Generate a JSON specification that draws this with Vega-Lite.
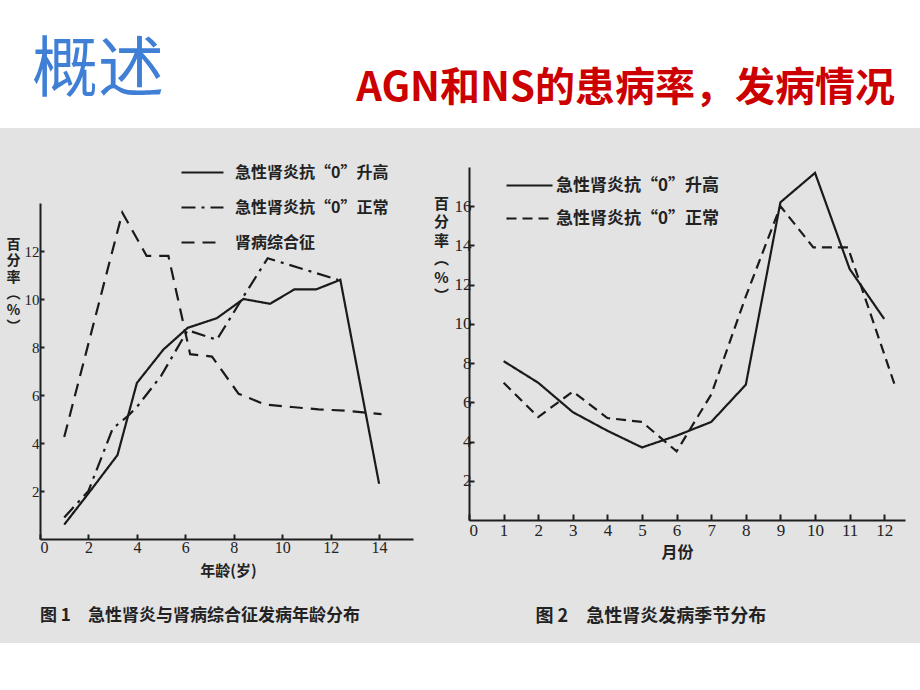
{
  "$schema": "https://vega.github.io/schema/vega-lite/v6.json",
  "background": "white",
  "padding": {"left": 0, "top": 38, "right": 0, "bottom": 47},
  "config": {
    "view": {"fill": "#e3e3e3", "stroke": null},
    "font": "Noto Sans CJK SC",
    "axis": {
      "domainColor": "#1e1e1e", "domainWidth": 2, "tickColor": "#1e1e1e", "tickWidth": 2,
      "grid": false, "labelColor": "#222222", "titleColor": "#222222",
      "labelFont": "Liberation Serif", "titleFont": "Noto Sans CJK SC", "titleFontWeight": "bold"
    },
    "legend": {
      "symbolType": "stroke", "symbolStrokeColor": "#1a1a1a", "symbolStrokeWidth": 2.2,
      "labelFont": "Noto Sans CJK SC", "labelFontWeight": "bold", "labelColor": "#222222",
      "padding": 0, "labelLimit": 400
    }
  },
  "datasets": {
    "d1": [
      {"x": 1.0, "y": 0.6, "s": "急性肾炎抗“0”升高"},
      {"x": 2.0, "y": 1.9, "s": "急性肾炎抗“0”升高"},
      {"x": 3.2, "y": 3.5, "s": "急性肾炎抗“0”升高"},
      {"x": 4.0, "y": 6.5, "s": "急性肾炎抗“0”升高"},
      {"x": 5.1, "y": 7.9, "s": "急性肾炎抗“0”升高"},
      {"x": 6.1, "y": 8.8, "s": "急性肾炎抗“0”升高"},
      {"x": 7.3, "y": 9.2, "s": "急性肾炎抗“0”升高"},
      {"x": 8.4, "y": 10.0, "s": "急性肾炎抗“0”升高"},
      {"x": 9.5, "y": 9.8, "s": "急性肾炎抗“0”升高"},
      {"x": 10.5, "y": 10.4, "s": "急性肾炎抗“0”升高"},
      {"x": 11.4, "y": 10.4, "s": "急性肾炎抗“0”升高"},
      {"x": 12.4, "y": 10.8, "s": "急性肾炎抗“0”升高"},
      {"x": 14.0, "y": 2.3, "s": "急性肾炎抗“0”升高"},
      {"x": 1.0, "y": 0.9, "s": "急性肾炎抗“0”正常"},
      {"x": 2.0, "y": 2.0, "s": "急性肾炎抗“0”正常"},
      {"x": 3.0, "y": 4.6, "s": "急性肾炎抗“0”正常"},
      {"x": 3.6, "y": 5.1, "s": "急性肾炎抗“0”正常"},
      {"x": 4.0, "y": 5.5, "s": "急性肾炎抗“0”正常"},
      {"x": 5.0, "y": 6.8, "s": "急性肾炎抗“0”正常"},
      {"x": 6.1, "y": 8.7, "s": "急性肾炎抗“0”正常"},
      {"x": 7.3, "y": 8.3, "s": "急性肾炎抗“0”正常"},
      {"x": 8.4, "y": 10.1, "s": "急性肾炎抗“0”正常"},
      {"x": 9.4, "y": 11.7, "s": "急性肾炎抗“0”正常"},
      {"x": 12.3, "y": 10.8, "s": "急性肾炎抗“0”正常"},
      {"x": 1.0, "y": 4.25, "s": "肾病综合征"},
      {"x": 3.4, "y": 13.6, "s": "肾病综合征"},
      {"x": 4.4, "y": 11.8, "s": "肾病综合征"},
      {"x": 5.3, "y": 11.8, "s": "肾病综合征"},
      {"x": 6.2, "y": 7.7, "s": "肾病综合征"},
      {"x": 7.1, "y": 7.6, "s": "肾病综合征"},
      {"x": 8.2, "y": 6.05, "s": "肾病综合征"},
      {"x": 9.3, "y": 5.6, "s": "肾病综合征"},
      {"x": 10.4, "y": 5.5, "s": "肾病综合征"},
      {"x": 11.5, "y": 5.4, "s": "肾病综合征"},
      {"x": 12.6, "y": 5.35, "s": "肾病综合征"},
      {"x": 14.1, "y": 5.2, "s": "肾病综合征"}
    ],
    "d2": [
      {"x": 1, "y": 8.1, "s": "急性肾炎抗“0”升高"},
      {"x": 2, "y": 7.0, "s": "急性肾炎抗“0”升高"},
      {"x": 3, "y": 5.5, "s": "急性肾炎抗“0”升高"},
      {"x": 4, "y": 4.55, "s": "急性肾炎抗“0”升高"},
      {"x": 5, "y": 3.7, "s": "急性肾炎抗“0”升高"},
      {"x": 6, "y": 4.3, "s": "急性肾炎抗“0”升高"},
      {"x": 7, "y": 5.0, "s": "急性肾炎抗“0”升高"},
      {"x": 8, "y": 6.9, "s": "急性肾炎抗“0”升高"},
      {"x": 9, "y": 16.2, "s": "急性肾炎抗“0”升高"},
      {"x": 10, "y": 17.7, "s": "急性肾炎抗“0”升高"},
      {"x": 11, "y": 12.8, "s": "急性肾炎抗“0”升高"},
      {"x": 12, "y": 10.25, "s": "急性肾炎抗“0”升高"},
      {"x": 1, "y": 7.0, "s": "急性肾炎抗“0”正常"},
      {"x": 2, "y": 5.25, "s": "急性肾炎抗“0”正常"},
      {"x": 3, "y": 6.55, "s": "急性肾炎抗“0”正常"},
      {"x": 4, "y": 5.2, "s": "急性肾炎抗“0”正常"},
      {"x": 5, "y": 5.0, "s": "急性肾炎抗“0”正常"},
      {"x": 6, "y": 3.5, "s": "急性肾炎抗“0”正常"},
      {"x": 7, "y": 6.4, "s": "急性肾炎抗“0”正常"},
      {"x": 8, "y": 11.4, "s": "急性肾炎抗“0”正常"},
      {"x": 9, "y": 16.0, "s": "急性肾炎抗“0”正常"},
      {"x": 9.95, "y": 13.9, "s": "急性肾炎抗“0”正常"},
      {"x": 10.95, "y": 13.9, "s": "急性肾炎抗“0”正常"},
      {"x": 12.3, "y": 6.9, "s": "急性肾炎抗“0”正常"}
    ]
  },
  "title": {
    "text": "概述", "anchor": "start", "dx": 32, "offset": -36,
    "fontSize": 66, "font": "Noto Sans CJK SC", "fontWeight": "normal", "color": "#3f7fd6"
  },
  "vconcat": [
    {
      "title": {
        "text": "AGN和NS的患病率，发病情况", "anchor": "end", "dx": -25, "offset": 19,
        "fontSize": 40, "font": "Noto Sans CJK SC", "fontWeight": "bold", "color": "#cc0000"
      },
      "spacing": 0,
      "bounds": "flush",
      "resolve": {
        "scale": {"strokeDash": "independent"},
        "legend": {"strokeDash": "independent"}
      },
      "hconcat": [
        {
          "width": 440, "height": 515,
          "data": {"name": "d1"},
          "title": {
            "text": "图 1　急性肾炎与肾病综合征发病年龄分布", "orient": "bottom", "anchor": "start",
            "dx": 40, "offset": -35, "fontSize": 17, "font": "Noto Sans CJK SC", "fontWeight": "bold", "color": "#222222"
          },
          "mark": {"type": "line", "color": "#1a1a1a", "strokeWidth": 2.2},
          "encoding": {
            "x": {
              "field": "x", "type": "quantitative",
              "scale": {"domain": [0, 15.4], "range": [40, 413], "nice": false, "zero": false},
              "axis": {
                "values": [0, 2, 4, 6, 8, 10, 12, 14], "offset": -104, "tickSize": -5, "labelPadding": 5,
                "labelFontSize": 16, "title": "年龄(岁)", "titleFontSize": 15, "titleX": 228, "titleY": 31,
                "titleBaseline": "middle", "titleAlign": "center"
              }
            },
            "y": {
              "field": "y", "type": "quantitative",
              "scale": {"domain": [0, 14], "range": [411, 75], "nice": false, "zero": false},
              "axis": {
                "values": [2, 4, 6, 8, 10, 12], "offset": -40, "tickSize": -4, "labelPadding": 5,
                "labelFontSize": 15, "title": ["百", "分", "率", "︵", "%", "︶"], "titleAngle": 0,
                "titleFontSize": 14, "titleLineHeight": 16.5, "titleX": -27, "titleY": 109,
                "titleBaseline": "top", "titleAlign": "center"
              }
            },
            "strokeDash": {
              "field": "s", "type": "nominal",
              "scale": {
                "domain": ["急性肾炎抗“0”升高", "急性肾炎抗“0”正常", "肾病综合征"],
                "range": [[1, 0], [14, 6, 3, 6], [13, 8]]
              },
              "legend": {
                "title": null, "orient": "none", "legendX": 180, "legendY": 22,
                "symbolSize": 1764, "rowPadding": 4, "labelFontSize": 16, "labelOffset": 10
              }
            }
          }
        },
        {
          "width": 480, "height": 515,
          "data": {"name": "d2"},
          "title": {
            "text": "图 2　急性肾炎发病季节分布", "orient": "bottom", "anchor": "start",
            "dx": 102, "offset": -35, "fontSize": 18, "font": "Noto Sans CJK SC", "fontWeight": "bold", "color": "#222222"
          },
          "mark": {"type": "line", "color": "#1a1a1a", "strokeWidth": 2.2},
          "encoding": {
            "x": {
              "field": "x", "type": "quantitative",
              "scale": {"domain": [0, 12.6], "range": [29, 465], "nice": false, "zero": false},
              "axis": {
                "values": [0, 1, 2, 3, 4, 5, 6, 7, 8, 9, 10, 11, 12], "offset": -123, "tickSize": -6, "labelPadding": 8,
                "labelFontSize": 17, "title": "月份", "titleFontSize": 16, "titleX": 237, "titleY": 32,
                "titleBaseline": "middle", "titleAlign": "center"
              }
            },
            "y": {
              "field": "y", "type": "quantitative",
              "scale": {"domain": [0, 18], "range": [392, 39], "nice": false, "zero": false},
              "axis": {
                "values": [2, 4, 6, 8, 10, 12, 14, 16], "offset": -29, "tickSize": -5, "labelPadding": 3,
                "labelFontSize": 17, "title": ["百", "分", "率", "︵", "%", "︶"], "titleAngle": 0,
                "titleFontSize": 15, "titleLineHeight": 18.5, "titleX": -28, "titleY": 68,
                "titleBaseline": "top", "titleAlign": "center"
              }
            },
            "strokeDash": {
              "field": "s", "type": "nominal",
              "scale": {
                "domain": ["急性肾炎抗“0”升高", "急性肾炎抗“0”正常"],
                "range": [[1, 0], [10, 6]]
              },
              "legend": {
                "title": null, "orient": "none", "legendX": 65, "legendY": 33,
                "symbolSize": 2116, "rowPadding": 0, "labelFontSize": 17, "labelOffset": 2
              }
            }
          }
        }
      ]
    }
  ]
}
